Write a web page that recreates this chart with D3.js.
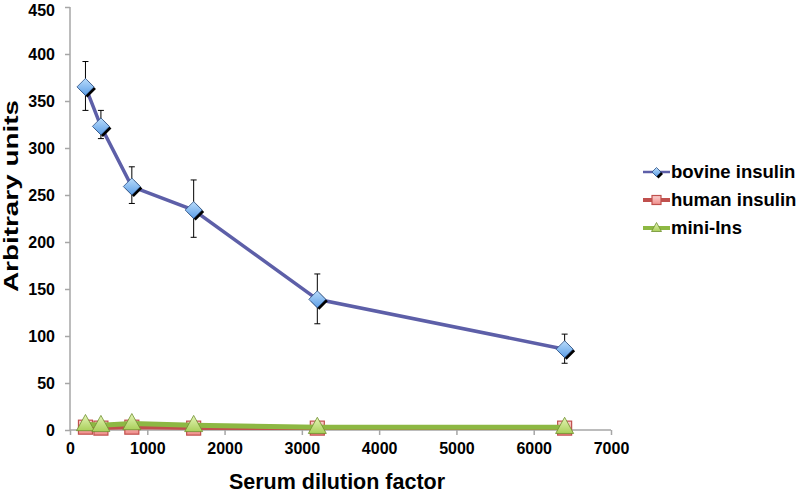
<!DOCTYPE html>
<html lang="en">
<head>
<meta charset="UTF-8">
<title>Serum dilution</title>
<style>
  body { margin: 0; background: #fff; }
  text { font-family: Arial, "Liberation Sans", sans-serif; font-weight: bold; }
</style>
</head>
<body>
<div id="container"></div>
<script src="https://d3js.org/d3.v7.min.js"></script>
<script>
// data
var dilutions = [200, 400, 800, 1600, 3200, 6400];
var bovine = [365, 323, 259, 234, 139, 86];
var bovineErrHi = [392, 340, 280, 266, 166, 102];
var bovineErrLo = [340, 310, 241, 205, 113, 71];
var human = [3, 2, 3, 2, 2, 2];
var miniIns = [6, 5, 7, 5, 3, 3];
var xTicks = [0, 1000, 2000, 3000, 4000, 5000, 6000, 7000];
var yTicks = [0, 50, 100, 150, 200, 250, 300, 350, 400, 450];
var seriesNames = ['bovine insulin', 'human insulin', 'mini-Ins'];

var W = 800, H = 496;
var margin = {top: 7, left: 70, right: 189, bottom: 66};

var x = d3.scaleLinear().domain([0, 7000]).range([margin.left, W - margin.right]);
var y = d3.scaleLinear().domain([0, 450]).range([H - margin.bottom, margin.top]);

var svg = d3.select('#container').append('svg').attr('width', W).attr('height', H);

var defs = svg.append('defs');
function grad(id, c1, c2) {
  var g = defs.append('linearGradient').attr('id', id).attr('x1', 0).attr('y1', 0).attr('x2', 0).attr('y2', 1);
  g.append('stop').attr('offset', '0%').attr('stop-color', c1);
  g.append('stop').attr('offset', '100%').attr('stop-color', c2);
}
grad('gBlue', '#b9dcfb', '#5d9ee6');
grad('gRed', '#fbd0cf', '#ef8d8a');
grad('gGreen', '#e6f5b8', '#a9cf5a');

// axes
var xAxisG = svg.append('g').attr('transform', `translate(0, ${y(0)})`)
  .call(d3.axisBottom(x).tickValues(xTicks).tickSize(5).tickPadding(8).tickFormat(d3.format('d')));
var yAxisG = svg.append('g').attr('transform', `translate(${x(0)}, 0)`)
  .call(d3.axisLeft(y).tickValues(yTicks).tickSize(5).tickPadding(10));
[xAxisG, yAxisG].forEach(function(g) {
  g.select('.domain').attr('stroke', '#a6a6a6').attr('stroke-width', 1.5);
  g.selectAll('.tick line').attr('stroke', '#a6a6a6').attr('stroke-width', 1.5);
  g.selectAll('.tick text').attr('fill', '#000').style('font-size', '16px').style('font-weight', 'bold')
    .style('font-family', 'Arial, "Liberation Sans", sans-serif');
});
yAxisG.select('.domain').attr('d', `M0,${y(450)}V${y(0)}`);
xAxisG.select('.domain').attr('d', `M${x(0)},0H${x(7000)}`);
// keep the top label inside the picture
yAxisG.selectAll('.tick text').filter(function(d) { return d === 450; }).attr('dy', '0.5em');

// axis titles
svg.append('text').attr('x', 337).attr('y', 489).attr('text-anchor', 'middle')
  .style('font-size', '21.5px').text('Serum dilution factor');
svg.append('text').attr('transform', 'translate(18, 196) rotate(-90)')
  .attr('text-anchor', 'middle').style('font-size', '19.5px')
  .attr('textLength', 192).attr('lengthAdjust', 'spacingAndGlyphs').text('Arbitrary units');

var line = d3.line().x(function(d, i) { return x(dilutions[i]); }).y(function(d) { return y(d); });

// marker helpers
function diamond(g, cx, cy, s) {
  g.append('path').attr('d', `M${cx + 2},${cy - s + 2}L${cx + s + 2},${cy + 2}L${cx + 2},${cy + s + 2}L${cx - s + 2},${cy + 2}Z`)
    .attr('fill', '#000');
  g.append('path').attr('d', `M${cx},${cy - s}L${cx + s},${cy}L${cx},${cy + s}L${cx - s},${cy}Z`)
    .attr('fill', 'url(#gBlue)').attr('stroke', '#2c4f84').attr('stroke-width', 0.8);
}
function square(g, cx, cy, s) {
  g.append('rect').attr('x', cx - s).attr('y', cy - s).attr('width', 2 * s).attr('height', 2 * s)
    .attr('fill', 'url(#gRed)').attr('stroke', '#c0504d').attr('stroke-width', 1.2);
}
function triangle(g, cx, cy, s) {
  g.append('path').attr('d', `M${cx},${cy - s * 1.1}L${cx + s},${cy + s * 0.7}L${cx - s},${cy + s * 0.7}Z`)
    .attr('fill', 'url(#gGreen)').attr('stroke', '#6f8f2f').attr('stroke-width', 0.8);
}

// human insulin
svg.append('path').datum(human).attr('d', line).attr('fill', 'none')
  .attr('stroke', '#c0504d').attr('stroke-width', 4);
var gh = svg.append('g');
human.forEach(function(v, i) { square(gh, x(dilutions[i]), y(v), 7); });

// mini-Ins
svg.append('path').datum(miniIns).attr('d', line).attr('fill', 'none')
  .attr('stroke', '#8db843').attr('stroke-width', 5);
var gm = svg.append('g');
miniIns.forEach(function(v, i) { triangle(gm, x(dilutions[i]), y(v), 9); });

// bovine insulin
svg.append('path').datum(bovine).attr('d', line).attr('fill', 'none')
  .attr('stroke', '#5d5fa8').attr('stroke-width', 3.5);
var ge = svg.append('g').attr('stroke', '#000').attr('stroke-width', 1);
bovine.forEach(function(v, i) {
  var cx = x(dilutions[i]);
  ge.append('line').attr('x1', cx).attr('x2', cx).attr('y1', y(bovineErrHi[i])).attr('y2', y(bovineErrLo[i]));
  ge.append('line').attr('x1', cx - 3).attr('x2', cx + 3).attr('y1', y(bovineErrHi[i])).attr('y2', y(bovineErrHi[i]));
  ge.append('line').attr('x1', cx - 3).attr('x2', cx + 3).attr('y1', y(bovineErrLo[i])).attr('y2', y(bovineErrLo[i]));
});
var gb = svg.append('g');
bovine.forEach(function(v, i) { diamond(gb, x(dilutions[i]), y(v), 8.5); });

// legend
var legColors = ['#5d5fa8', '#c0504d', '#8db843'];
var leg = svg.append('g').attr('transform', 'translate(643, 172)');
seriesNames.forEach(function(name, i) {
  var row = leg.append('g').attr('transform', `translate(0, ${i * 28})`);
  row.append('line').attr('x1', 0).attr('x2', 27).attr('y1', 0).attr('y2', 0)
    .attr('stroke', legColors[i]).attr('stroke-width', i === 0 ? 2.5 : 4);
  if (i === 0) diamond(row, 13.5, 0, 4.5);
  if (i === 1) square(row, 13.5, 0, 4.5);
  if (i === 2) triangle(row, 13.5, 0, 5);
  row.append('text').attr('x', 28).attr('y', 0).attr('dy', '0.35em')
    .style('font-size', '18.5px').text(name);
});
</script>
</body>
</html>
